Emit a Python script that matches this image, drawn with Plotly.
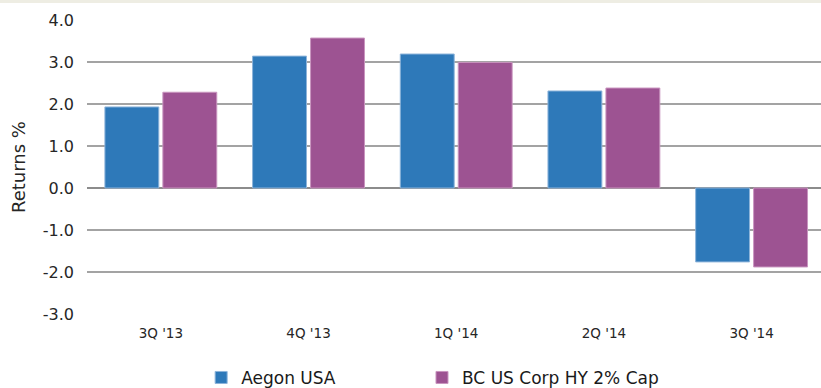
import plotly.graph_objects as go

quarters = ["3Q '13", "4Q '13", "1Q '14", "2Q '14", "3Q '14"]
aegon_usa = [1.93, 3.14, 3.19, 2.31, -1.76]
bc_us_corp_hy = [2.28, 3.57, 2.99, 2.38, -1.88]
y_ticks = [4.0, 3.0, 2.0, 1.0, 0.0, -1.0, -2.0, -3.0]

font_family = "'DejaVu Sans', sans-serif"

fig = go.Figure()
fig.add_trace(go.Bar(
    x=quarters, y=aegon_usa, name="Aegon USA", legend="legend",
    marker=dict(color="#2E79B9", line=dict(color="#8DB4DA", width=1)),
))
fig.add_trace(go.Bar(
    x=quarters, y=bc_us_corp_hy, name="BC US Corp HY 2% Cap", legend="legend2",
    marker=dict(color="#9D5392", line=dict(color="#C995BF", width=1)),
))

legend_style = dict(
    orientation="h", xref="container", yref="container",
    y=0.026, xanchor="left", yanchor="middle",
    font=dict(size=17, color="#1a1a1a"), itemwidth=30,
    bgcolor="rgba(0,0,0,0)",
)

fig.update_layout(
    width=821, height=388,
    margin=dict(l=87, r=0, t=20, b=74),
    paper_bgcolor="white", plot_bgcolor="white",
    barmode="group", bargap=0.215, bargroupgap=0.07,
    font=dict(family=font_family, color="#262626"),
    showlegend=True,
    legend=dict(x=0.245, **legend_style),
    legend2=dict(x=0.514, **legend_style),
    xaxis=dict(
        range=[-0.5, 4.47], showgrid=False, showline=False, zeroline=False,
        ticks="", tickfont=dict(size=13.5), ticklabelstandoff=9,
    ),
    yaxis=dict(
        range=[-3, 4], tickvals=y_ticks,
        ticktext=[f"{v:.1f}" for v in y_ticks],
        showgrid=True, gridcolor="#A3A3A3", gridwidth=2,
        zeroline=True, zerolinecolor="#8C8C8C", zerolinewidth=2,
        showline=False, ticks="", tickfont=dict(size=16),
        ticklabelstandoff=12,
        title=dict(text="Returns %", font=dict(size=18), standoff=12),
    ),
    shapes=[dict(
        type="rect", xref="paper", yref="paper",
        x0=-0.2, x1=1.01, y0=1.0 + 17 / 294, y1=1.0 + 21 / 294,
        fillcolor="#EEEDE3", line=dict(width=0), layer="below",
    )],
)

fig.write_html("out.html")
